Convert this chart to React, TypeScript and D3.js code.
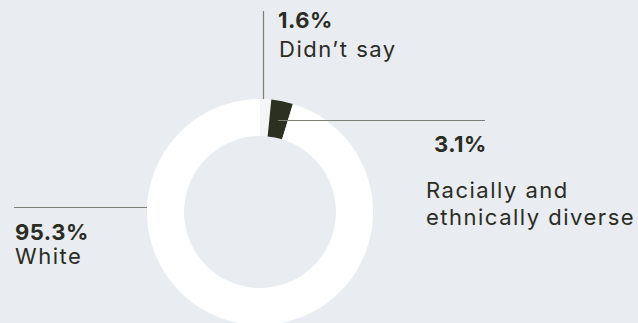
import React from "react";
import * as d3 from "d3";

const categories = ["Didn’t say", "Racially and ethnically diverse", "White"];
const values = [1.6, 3.1, 95.3];
const valueLabels = ["1.6%", "3.1%", "95.3%"];
const colors = ["#f4f5f6", "#2c3020", "#ffffff"];

const W = 638;
const H = 323;
const cx = 260;
const cy = 212;
const outerR = 113;
const innerR = 76;
const FONT = "Inter, 'Noto Sans', sans-serif";
const TEXT = "#2b2d24";
const LINE = "#7d7f76";
const VS = 22;
const LS = 22;
const SP = 1.5;
const VSP = 0.5;

export default function App() {
  const pie = d3.pie<number>().sort(null).value((d) => d)(values);
  const arc = d3.arc<d3.PieArcDatum<number>>().innerRadius(innerR).outerRadius(outerR);

  return (
    <svg
      width={W}
      height={H}
      style={{ position: "absolute", left: 0, top: 0 }}
      fontFamily={FONT}
    >
      <rect width={W} height={H} fill="#e9ecf1" />
      <g transform={`translate(${cx},${cy})`}>
        {pie.map((p, i) => (
          <path key={i} d={arc(p) || ""} fill={colors[i]} />
        ))}
      </g>
      {/* leader lines */}
      <line x1={263.5} y1={11} x2={263.5} y2={99} stroke={LINE} strokeWidth={1.2} />
      <line x1={278} y1={120.5} x2={485} y2={120.5} stroke={LINE} strokeWidth={1.2} />
      <line x1={14} y1={207.5} x2={147} y2={207.5} stroke={LINE} strokeWidth={1.2} />

      {/* Didn't say */}
      <text x={278} y={28} fontSize={VS} fontWeight={700} fill={TEXT} letterSpacing={VSP}>{valueLabels[0]}</text>
      <text x={279} y={57} fontSize={LS} fill={TEXT} letterSpacing={SP}>{categories[0]}</text>

      {/* diverse */}
      <text x={434} y={152} fontSize={VS} fontWeight={700} fill={TEXT} letterSpacing={VSP}>{valueLabels[1]}</text>
      <text x={426} y={198} fontSize={LS} fill={TEXT} letterSpacing={SP}>
        <tspan x={426}>Racially and</tspan>
        <tspan x={426} dy={27}>ethnically diverse</tspan>
      </text>

      {/* White */}
      <text x={15} y={240} fontSize={VS} fontWeight={700} fill={TEXT} letterSpacing={VSP}>{valueLabels[2]}</text>
      <text x={15} y={264} fontSize={LS} fill={TEXT} letterSpacing={SP}>{categories[2]}</text>
    </svg>
  );
}
